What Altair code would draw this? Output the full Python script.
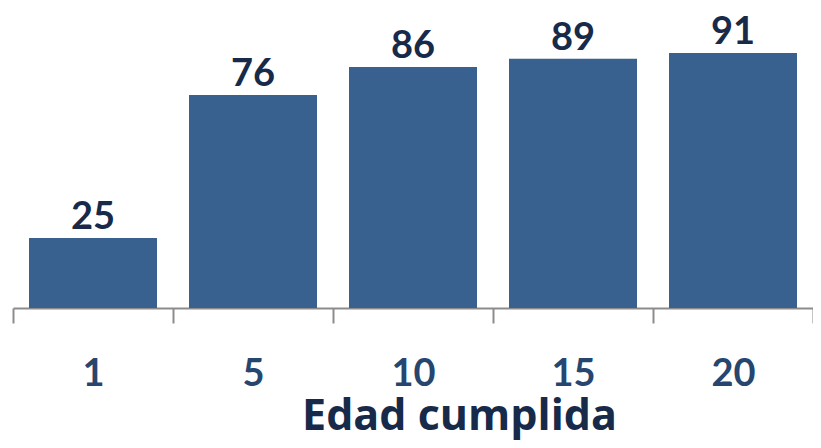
import altair as alt
import pandas as pd

categories = ["1", "5", "10", "15", "20"]
values = [25, 76, 86, 89, 91]

df = pd.DataFrame({"edad": categories, "valor": values})

FONT = "Lato"
BAR = "#386190"
LABEL = "#172A49"
TICKLAB = "#26466F"

x = alt.X(
    "edad:N",
    sort=categories,
    scale=alt.Scale(paddingInner=0, paddingOuter=0),
    axis=alt.Axis(
        title="Edad cumplida",
        labelAngle=0,
        labelFont=FONT,
        labelFontSize=38,
        labelFontWeight="bold",
        labelColor=TICKLAB,
        labelBaseline="alphabetic",
        labelPadding=62,
        tickBand="extent",
        tickSize=15,
        tickColor="#8C8C8C",
        tickWidth=2,
        domainColor="#8C8C8C",
        domainWidth=2,
        titleFont="Open Sans",
        titleFontSize=43,
        titleFontWeight="bold",
        titleColor=LABEL,
        titleBaseline="alphabetic",
        titleY=121,
        titleX=446,
        titleAlign="center",
        titleAnchor="start",
    ),
)
y = alt.Y("valor:Q", scale=alt.Scale(domain=[0, 107.1], nice=False), axis=None)

bars = alt.Chart(df).mark_bar(color=BAR, width=alt.RelativeBandSize(0.8)).encode(x=x, y=y)
text = alt.Chart(df).mark_text(
    font=FONT, fontSize=38, fontWeight="bold", color=LABEL, baseline="alphabetic", dy=-9
).encode(x=alt.X("edad:N", sort=categories), y=y, text="valor:Q")

chart = (
    alt.layer(bars, text)
    .properties(
        width=800,
        height=300,
        padding={"left": 5, "top": 0, "right": 0, "bottom": 132},
        autosize=alt.AutoSizeParams(type="none"),
    )
    .configure_view(stroke=None)
)

chart.save("out.html", embed_options={"renderer": "svg", "actions": False})
